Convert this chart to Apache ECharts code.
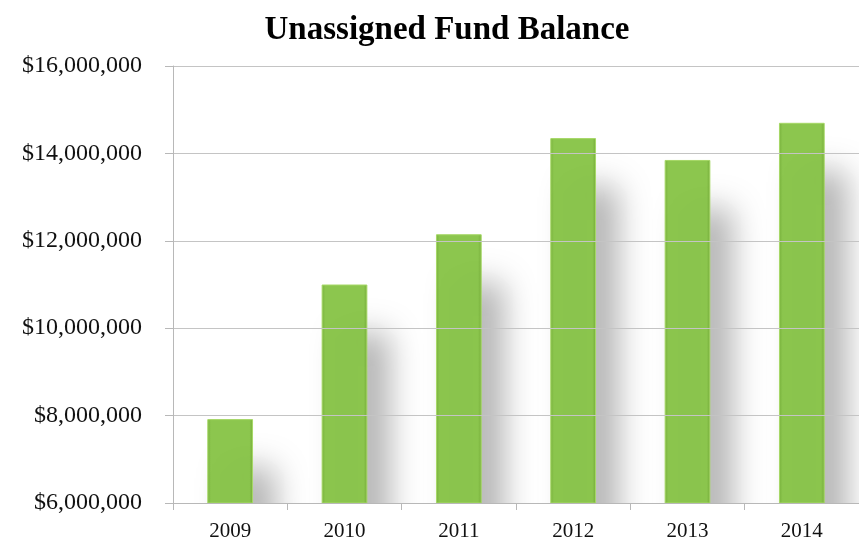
<!DOCTYPE html>
<html>
<head>
<meta charset="utf-8">
<script src="https://cdn.jsdelivr.net/npm/echarts@6/dist/echarts.min.js"></script>
<style>
  html, body { margin: 0; padding: 0; background: #fff; }
  #chart { width: 859px; height: 542px; }
</style>
</head>
<body>
<div id="chart"></div>
<script>
const years = ['2009', '2010', '2011', '2012', '2013', '2014'];
const balance = [7920000, 11000000, 12150000, 14350000, 13850000, 14700000];
const yMin = 6000000;
const yMax = 16000000;
const yStep = 2000000;

const serif = "'Palatino Linotype', 'Book Antiqua', Palatino, 'Liberation Serif', serif";

const fmtMoney = (v)=>{
    return '$' + v.toLocaleString('en-US');
};

const chart = echarts.init(document.getElementById('chart'));
chart.setOption({
    animation: false,
    title: {
        text: 'Unassigned Fund Balance',
        left: 442,
        textAlign: 'center',
        top: 9,
        textStyle: {
            fontFamily: serif,
            fontWeight: 'bold',
            fontSize: 33,
            color: '#000'
        }
    },
    grid: {
        left: 173,
        top: 66,
        width: 699,
        height: 437
    },
    graphic: [{
        type: 'rect',
        z: 5,
        shape: { x: 174, y: 504, width: 700, height: 40 },
        style: { fill: '#fff' }
    }],
    xAxis: {
        type: 'category',
        data: years,
        z: 10,
        axisLine: {
            lineStyle: { color: '#b8b8b8', width: 1 }
        },
        axisTick: {
            show: true,
            length: 7,
            lineStyle: { color: '#b8b8b8' }
        },
        axisLabel: {
            margin: 18,
            fontFamily: serif,
            fontSize: 21,
            color: '#111'
        }
    },
    yAxis: {
        type: 'value',
        min: yMin,
        max: yMax,
        interval: yStep,
        z: 10,
        axisLine: {
            show: true,
            lineStyle: { color: '#b8b8b8', width: 1 }
        },
        axisTick: {
            show: true,
            length: 8,
            lineStyle: { color: '#b8b8b8' }
        },
        axisLabel: {
            margin: 31,
            fontFamily: serif,
            fontSize: 24,
            color: '#111',
            formatter: fmtMoney
        },
        splitLine: {
            lineStyle: { color: '#c4c4c4', width: 1 }
        }
    },
    series: [{
        type: 'bar',
        data: balance,
        barWidth: '40%',
        itemStyle: {
            color: new echarts.graphic.LinearGradient(0, 0, 1, 0, [
                { offset: 0, color: '#79b23d' },
                { offset: 0.08, color: '#8cc64e' },
                { offset: 0.92, color: '#8cc64e' },
                { offset: 1, color: '#76ad3a' }
            ]),
            borderColor: '#a6d866',
            borderWidth: 1,
            shadowColor: 'rgba(0, 0, 0, 0.3)',
            shadowBlur: 32,
            shadowOffsetX: 22,
            shadowOffsetY: 48
        }
    }]
});
</script>
</body>
</html>
